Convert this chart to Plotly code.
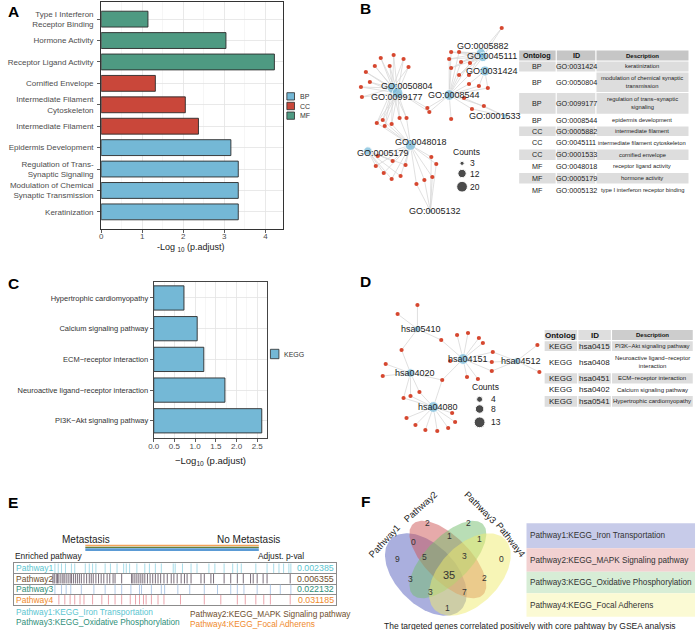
import numpy as np
import plotly.graph_objects as go

W, H = 699, 630
FONT = "Liberation Sans, Arial, sans-serif"


def PX(x):
    return x / W


def PY(y):
    return 1 - y / H


# ---------------- Panel A: GO enrichment ----------------
go_terms = ["Keratinization", "Modulation of Chemical<br>Synaptic Transmission",
            "Regulation of Trans-<br>Synaptic Signaling", "Epidermis Development",
            "Intermediate Filament", "Intermediate Filament<br>Cytoskeleton",
            "Cornified Envelope", "Receptor Ligand Activity", "Hormone Activity",
            "Type I Interferon<br>Receptor Binding"]
go_ont = ["BP", "BP", "BP", "BP", "CC", "CC", "CC", "MF", "MF", "MF"]
go_logp = [3.34, 3.34, 3.34, 3.16, 2.37, 2.05, 1.32, 4.22, 3.04, 1.14]

# ---------------- Panel B: GO network ----------------
b_hubs = ["GO:0050804", "GO:0099177", "GO:0008544", "GO:0005882", "GO:0045111",
          "GO:0031424", "GO:0001533", "GO:0048018", "GO:0005179", "GO:0005132"]
b_hub_counts = [20, 20, 20, 15, 15, 18, 5, 20, 12, 3]
b_hub_x = [390, 395, 447, 479, 481, 483, 503, 408, 365, 428]
b_hub_y = [88, 93, 95, 53, 57, 71, 116, 145, 151, 211]
b_lab_x = [404, 394, 452, 481, 490, 490, 493, 419, 380, 433]
b_lab_y = [86.5, 96.5, 94.5, 46, 56, 70.5, 116, 142.5, 153, 211]
b_gene_x = [391, 378, 401, 387, 406, 372, 363, 367, 358, 359,
            374, 380, 382, 389, 397, 404, 425, 427, 449, 500,
            449, 457, 447, 459, 468, 449, 457, 467, 467, 477, 486,
            462, 482, 470, 375, 390, 403, 373, 381, 389, 398,
            429, 434, 430, 422, 414]
b_gene_y = [55, 58, 59, 66, 67, 66, 72, 82, 87, 97,
            123, 120, 126, 124, 118, 118, 108, 112, 119, 28,
            52, 52, 59, 62, 63, 68, 75, 75, 84, 86, 88,
            98, 106, 109, 156, 161, 165, 166, 173, 179, 176,
            157, 164, 177, 180, 184]
b_gene_hubs = (["0,1"] * 10 + ["0,1,7"] * 6 + ["0,2"] * 2 + ["2"] + ["3,4"]
               + ["2,3,4"] * 8 + ["2,5"] * 3 + ["2,6"] * 3 + ["7,8"] * 7 + ["7,9"] * 5)
b_legend_counts = [3, 12, 20]

tb_head = ["Ontolog", "ID", "Description"]
tb_ont = ["BP", "BP", "BP", "BP", "CC", "CC", "CC", "MF", "MF", "MF"]
tb_id = ["GO:0031424", "GO:0050804", "GO:0099177", "GO:0008544", "GO:0005882",
         "GO:0045111", "GO:0001533", "GO:0048018", "GO:0005179", "GO:0005132"]
tb_desc = ["keratinization", "modulation of chemical synaptic<br>transmission",
           "regulation of trans−synaptic<br>signaling", "epidermis development",
           "intermediate filament", "intermediate filament cytoskeleton",
           "cornified envelope", "receptor ligand activity", "hormone activity",
           "type I interferon receptor binding"]

# ---------------- Panel C: KEGG enrichment ----------------
kegg_terms = ["PI3K−Akt signaling pathway", "Neuroactive ligand−receptor interaction",
              "ECM−receptor interaction", "Calcium signaling pathway",
              "Hypertrophic cardiomyopathy"]
kegg_logp = [2.61, 1.72, 1.21, 1.05, 0.73]

# ---------------- Panel D: KEGG network ----------------
d_hubs = ["hsa05410", "hsa04151", "hsa04512", "hsa04020", "hsa04080"]
d_hub_counts = [5, 13, 5, 8, 13]
d_hub_x = [415, 461, 515, 408, 431]
d_hub_y = [329, 359, 361, 373, 407]
d_lab_x = [419, 465.5, 519.7, 413, 435.5]
d_lab_y = [329, 359.3, 360.7, 372.7, 407.3]
d_gene_x = [415, 395, 439, 399, 455, 466, 477, 481, 491, 490, 490, 448, 465, 476, 440,
            383, 380, 401, 408, 417, 404, 413, 423, 435, 446, 453, 450, 536, 538]
d_gene_y = [305, 314, 340, 350, 335, 333, 338, 343, 352, 362, 371, 361, 377, 379, 380,
            364, 376, 398, 396, 392, 418, 425, 430, 431, 428, 422, 413, 345, 372]
d_gene_hubs = ["0", "0", "0,1", "0,3", "1", "1", "1", "1", "1,2", "1,2", "1,2", "1", "1", "1",
               "1,3,4", "3", "3", "3,4", "3,4", "3,4", "4", "4", "4", "4", "4", "4", "4", "2", "2"]
d_legend_counts = [4, 8, 13]

td_ont = ["KEGG", "KEGG", "KEGG", "KEGG", "KEGG"]
td_id = ["hsa0415", "hsa0408", "hsa0451", "hsa0402", "hsa0541"]
td_desc = ["PI3K−Akt signaling pathway", "Neuroactive ligand−receptor<br>interaction",
           "ECM−receptor interaction", "Calcium signaling pathway",
           "Hypertrophic cardiomyopathy"]

# ---------------- Panel E: GSEA barcodes ----------------
gsea_names = ["Pathway1", "Pathway2", "Pathway3", "Pathway4"]
gsea_padj = ["0.002385", "0.006355", "0.022132", "0.031185"]
gsea_full = ["Pathway1:KEGG_Iron Transportation", "Pathway2:KEGG_MAPK Signaling pathway",
             "Pathway3:KEGG_Oxidative Phosphorylation", "Pathway4:KEGG_Focal Adherens"]
hits_p1 = [124, 134, 144, 156, 174, 184, 216, 228, 238, 248, 276, 292, 312, 332, 340, 350, 372,
           396, 410, 428, 446, 482, 488, 510, 536, 554, 590, 608, 636, 662, 676, 688, 732, 766,
           786, 802, 816, 832, 838]
hits_p2 = [118, 122, 128, 132, 136, 142, 148, 152, 158, 164, 170, 174, 180, 186, 192, 198, 204,
           212, 220, 228, 234, 240, 248, 256, 264, 272, 282, 290, 300, 306, 326, 356, 360, 366,
           372, 378, 384, 390, 396, 404, 412, 420, 428, 436, 444, 454, 464, 476, 484, 494, 506,
           516, 524, 536, 566, 576, 596, 604, 636, 656, 676, 694, 716, 724, 736, 754, 766, 836]
hits_p3 = [124, 144, 158, 172, 204, 242, 276, 306, 326, 354, 380, 386, 416, 446, 456, 496, 532,
           576, 616, 656, 676, 696, 736, 776, 806, 838]
hits_p4 = [136, 154, 170, 184, 200, 212, 238, 266, 286, 306, 326, 352, 368, 380, 392, 400, 416,
           436, 454, 504, 576, 626, 676, 700, 732, 756, 776, 836]

# ---------------- Panel F: Venn ----------------
venn_sets = ["Pathway1", "Pathway2", "Pathway3", "Pathway4"]
venn_counts = [9, 2, 2, 0, 0, 1, 1, 5, 3, 3, 2, 35, 3, 7, 1]
venn_count_x = [395, 425, 466, 500, 411, 447, 478, 422, 462, 408, 483, 447, 428, 462, 445]
venn_count_y = [559, 523, 523, 559, 542, 536, 539, 557, 556, 579, 578, 575, 592, 592, 608]
venn_caption = "The targeted genes correlated positively with core pahtway by GSEA analysis"

# =====================================================================
fig = go.Figure()
annotations, shapes = [], []


def text(x, y, s, size=8, color="#222", xanchor="center", angle=0, bold=False):
    annotations.append(dict(
        x=PX(x), y=PY(y), xref="paper", yref="paper",
        text=("<b>%s</b>" % s) if bold else s, showarrow=False,
        xanchor=xanchor, yanchor="middle", textangle=angle, borderpad=0,
        font=dict(size=size, color=color, family=FONT)))


def rect(x0, y0, x1, y1, fill, layer="below"):
    shapes.append(dict(type="rect", xref="paper", yref="paper",
                       x0=PX(x0), x1=PX(x1), y0=PY(y1), y1=PY(y0),
                       fillcolor=fill, line=dict(width=0), layer=layer))


def hline(x0, x1, y, color, width):
    shapes.append(dict(type="line", xref="paper", yref="paper",
                       x0=PX(x0), x1=PX(x1), y0=PY(y), y1=PY(y),
                       line=dict(color=color, width=width)))


# ---- Panel A bars
ont_colors = {"BP": "#74B8D6", "CC": "#C9473A", "MF": "#4E9A82"}
for ont in ["BP", "CC", "MF"]:
    idx = [i for i, o in enumerate(go_ont) if o == ont]
    fig.add_trace(go.Bar(
        y=[go_terms[i] for i in idx], x=[go_logp[i] for i in idx], orientation="h",
        width=0.74, marker=dict(color=ont_colors[ont], line=dict(color="#2b2b2b", width=0.9)),
        xaxis="x", yaxis="y", showlegend=False, hoverinfo="skip"))

# ---- Panel C bars
fig.add_trace(go.Bar(
    y=kegg_terms, x=kegg_logp, orientation="h", width=0.79,
    marker=dict(color="#74B8D6", line=dict(color="#2b2b2b", width=0.9)),
    xaxis="x2", yaxis="y2", showlegend=False, hoverinfo="skip"))


# ---- Networks
def edges(gx, gy, ghubs, hx, hy):
    ex, ey = [], []
    for x, y, hs in zip(gx, gy, ghubs):
        for h in hs.split(","):
            k = int(h)
            ex += [x, hx[k], None]
            ey += [y, hy[k], None]
    return ex, ey


HUB_COL = "#72B9DA"
GENE_COL = "#D6472F"
for gx, gy, gh, hx, hy, hc, labs, lx, ly, k in [
        (b_gene_x, b_gene_y, b_gene_hubs, b_hub_x, b_hub_y, b_hub_counts, b_hubs, b_lab_x, b_lab_y, 2.4),
        (d_gene_x, d_gene_y, d_gene_hubs, d_hub_x, d_hub_y, d_hub_counts, d_hubs, d_lab_x, d_lab_y, 3.0)]:
    ex, ey = edges(gx, gy, gh, hx, hy)
    fig.add_trace(go.Scatter(x=ex, y=ey, mode="lines", line=dict(color="#D8D8D8", width=0.8),
                             xaxis="x3", yaxis="y3", showlegend=False, hoverinfo="skip"))
    fig.add_trace(go.Scatter(x=gx, y=gy, mode="markers", marker=dict(color=GENE_COL, size=4.2),
                             xaxis="x3", yaxis="y3", showlegend=False, hoverinfo="skip"))
    fig.add_trace(go.Scatter(x=hx, y=hy, mode="markers",
                             marker=dict(color=HUB_COL, size=[k * np.sqrt(c) for c in hc]),
                             xaxis="x3", yaxis="y3", showlegend=False, hoverinfo="skip"))
    for s, x, y in zip(labs, lx, ly):
        text(x, y, s, size=9, color="#222")

# Counts legends
for counts, cx, ys, tx, title_xy, k in [
        (b_legend_counts, 460, [163.3, 173.5, 186.7], 467, (464, 152.3), 2.4),
        (d_legend_counts, 477.7, [399.3, 409, 422.3], 488, (484, 387.3), 3.0)]:
    fig.add_trace(go.Scatter(x=[cx] * 3, y=ys, mode="markers",
                             marker=dict(color="black", size=[k * np.sqrt(c) for c in counts]),
                             xaxis="x3", yaxis="y3", showlegend=False, hoverinfo="skip"))
    text(title_xy[0], title_xy[1], "Counts", size=8.5, color="#222")
    for c, y in zip(counts, ys):
        text(tx, y, str(c), size=8.5, color="#222", xanchor="left")

# ---- Venn (pixel canvas)
venn_fill = ["rgba(85,95,190,0.5)", "rgba(205,85,85,0.5)",
             "rgba(115,190,110,0.5)", "rgba(240,235,110,0.5)"]
venn_geom = [(423.5, 574.5, 50, 30, 45), (445.7, 559.5, 50, 22.5, 45),
             (445.7, 559.5, 50, 22.5, -45), (467.9, 574.5, 50, 30, -45)]
t = np.linspace(0, 2 * np.pi, 160)
for (cx, cy, a, b, ang), col in zip(venn_geom, venn_fill):
    ca, sa = np.cos(np.radians(ang)), np.sin(np.radians(ang))
    ex = cx + a * np.cos(t) * ca - b * np.sin(t) * sa
    ey = cy + a * np.cos(t) * sa + b * np.sin(t) * ca
    fig.add_trace(go.Scatter(x=ex, y=ey, mode="lines", fill="toself", fillcolor=col,
                             line=dict(width=0), xaxis="x3", yaxis="y3",
                             showlegend=False, hoverinfo="skip"))
for c, x, y in zip(venn_counts, venn_count_x, venn_count_y):
    text(x, y, str(c), size=11 if c == 35 else 8.5, color="#333")
for s, (x, y, ang) in zip(venn_sets, [(382, 541, -47), (418, 506.5, -42),
                                      (479, 507.5, 45), (509, 540, 52)]):
    text(x, y, s, size=9.3, color="#222", angle=ang)

# ---- Panel E barcodes
bar_cols = ["#9FD8E6", "#5A4A5A", "#A9C5E6", "#E99AA3"]
lab_cols = ["#5BC5D0", "#6E4E2C", "#2F8F7A", "#F08A2C"]
for i, hits in enumerate([hits_p1, hits_p2, hits_p3, hits_p4]):
    xs, ys = [], []
    for h in hits:
        xs += [h, h, None]
        ys += [i - 0.45, i + 0.45, None]
    fig.add_trace(go.Scatter(x=xs, y=ys, mode="lines",
                             line=dict(color=bar_cols[i], width=1),
                             opacity=0.8 if i == 1 else 0.9,
                             xaxis="x4", yaxis="y4", showlegend=False, hoverinfo="skip"))

row_c = [568.25, 578.75, 589.25, 599.75]
for i in range(4):
    text(9.5, row_c[i], gsea_names[i], size=8.5, color=lab_cols[i], xanchor="left")
    text(332, row_c[i], gsea_padj[i], size=8.8, color=lab_cols[i], xanchor="right")
text(80.5, 539.3, "Metastasis", size=10, color="#222")
text(245, 539.3, "No Metastasis", size=10, color="#222")
text(8, 556, "Enriched pathway", size=8.4, color="#222", xanchor="left")
text(302, 556, "Adjust. p-val", size=8.4, color="#222", xanchor="right")
hline(80, 255, 545.6, "#F4A259", 1.5)
hline(80, 255, 547.3, "#66803C", 1.3)
hline(80, 255, 549.6, "#5B9BD5", 2.6)
text(9.3, 612.3, gsea_full[0], size=8.3, color=lab_cols[0], xanchor="left")
text(9.3, 622.3, gsea_full[2], size=8.3, color=lab_cols[2], xanchor="left")
text(184.3, 614, gsea_full[1], size=8.3, color=lab_cols[1], xanchor="left")
text(184.3, 623.7, gsea_full[3], size=8.3, color=lab_cols[3], xanchor="left")

# ---- Panel F legend boxes
box_cols = ["#C7CBE9", "#F2D1D1", "#D7EDD6", "#FBFAD4"]
box_y = [523.3, 548.3, 571.7, 593.3, 616.7]
for i in range(4):
    rect(525, box_y[i], 695, box_y[i + 1], box_cols[i])
    text(528, (box_y[i] + box_y[i + 1]) / 2, gsea_full[i], size=8.2, color="#333", xanchor="left")
text(528.5, 625.5, venn_caption, size=8.5, color="#222")

# ---- Tables
GRAY = "#DDDDDD"


def table(cols_x, rows_y, head, cols, head_fill, fills, sizes, head_sizes):
    for j in range(3):
        rect(cols_x[j] + 0.6, rows_y[0] + 0.6, cols_x[j + 1] - 0.6, rows_y[1] - 0.6, head_fill[j])
        text((cols_x[j] + cols_x[j + 1]) / 2, (rows_y[0] + rows_y[1]) / 2, head[j],
             size=head_sizes[j], color="#111", bold=True)
    for r in range(len(cols[0])):
        for j in range(3):
            f = fills[j][r]
            if f != "white":
                rect(cols_x[j] + 0.6, rows_y[r + 1] + 0.6, cols_x[j + 1] - 0.6, rows_y[r + 2] - 0.6, f)
            text((cols_x[j] + cols_x[j + 1]) / 2, (rows_y[r + 1] + rows_y[r + 2]) / 2,
                 cols[j][r], size=sizes[j], color="#222")


rowfill_b = [GRAY if r % 2 == 0 else "white" for r in range(10)]
descfill_b = list(rowfill_b)
descfill_b[1] = GRAY
table([517, 555, 595, 689], [50, 61, 72, 92.5, 114.3, 126, 136.7, 149, 160.7, 172.3, 184, 196],
      tb_head, [tb_ont, tb_id, tb_desc], ["#C6C6C6"] * 3,
      [rowfill_b, rowfill_b, descfill_b], [7.2, 7.2, 5.8], [7.2, 7.2, 6])
rowfill_d = [GRAY if r % 2 == 0 else "white" for r in range(5)]
table([542.7, 576.7, 610.7, 693.3], [329.3, 340.7, 351.7, 372.7, 384, 395.3, 407.3],
      tb_head, [td_ont, td_id, td_desc], ["#DEDEDE", "#DEDEDE", "#CDCDCD"],
      [rowfill_d, rowfill_d, rowfill_d], [8, 8, 6], [8, 8, 6])

# ---- Legends for A and C (manual keys)
for lab, y0, y1 in [("BP", 92.7, 100), ("CC", 102.3, 109.7), ("MF", 112, 119.3)]:
    shapes.append(dict(type="rect", xref="paper", yref="paper", x0=PX(283.3), x1=PX(291),
                       y0=PY(y1), y1=PY(y0), fillcolor=ont_colors[lab],
                       line=dict(color="#2b2b2b", width=0.8)))
    text(296, (y0 + y1) / 2, lab, size=7, color="#333", xanchor="left")
shapes.append(dict(type="rect", xref="paper", yref="paper", x0=PX(266.7), x1=PX(275.3),
                   y0=PY(358.7), y1=PY(349.3), fillcolor="#74B8D6",
                   line=dict(color="#2b2b2b", width=0.8)))
text(279.3, 354, "KEGG", size=7, color="#333", xanchor="left")

# ---- Axis titles and panel letters
text(187, 248, "-Log <sub>10</sub> (p.adjust)", size=9, color="#222")
text(206, 460.7, "−Log<sub>10</sub> (p.adjust)", size=9.5, color="#222")
for s, x, y in [("A", 7.5, 11), ("B", 363, 8.5), ("C", 7.5, 283.5), ("D", 363, 281.5),
                ("E", 7.5, 502.5), ("F", 362.5, 502)]:
    text(x, y, s, size=15.5, color="black", bold=True)

GRID = "#E4E4E4"
MINOR = "#F0F0F0"
fig.update_layout(
    width=W, height=H, margin=dict(l=0, r=0, t=0, b=0),
    paper_bgcolor="white", plot_bgcolor="rgba(0,0,0,0)",
    font=dict(family=FONT), barmode="overlay", showlegend=False,
    xaxis=dict(domain=[PX(96), PX(279)], range=[0, 4.42], anchor="y", tick0=0, dtick=1,
               ticks="outside", ticklen=3, tickcolor="#333", tickwidth=0.8, ticklabelstandoff=-4,
               tickfont=dict(size=8, color="#4D4D4D"), showline=True, mirror=True,
               linecolor="#333", linewidth=1, showgrid=True, gridcolor=GRID, gridwidth=0.8,
               minor=dict(dtick=0.5, tick0=0, showgrid=True, gridcolor=MINOR, gridwidth=0.6),
               zeroline=False, fixedrange=True),
    yaxis=dict(domain=[PY(229), PY(2)], range=[-0.8, 9.8], anchor="x", type="category",
               categoryorder="array", categoryarray=go_terms, ticks="outside", ticklen=3,
               tickcolor="#333", tickwidth=0.8, tickfont=dict(size=8, color="#4D4D4D"),
               ticklabelstandoff=2,
               showline=True, mirror=True, linecolor="#333", linewidth=1,
               showgrid=True, gridcolor=GRID, gridwidth=0.8, zeroline=False, fixedrange=True),
    xaxis2=dict(domain=[PX(149), PX(263)], range=[0, 2.73], anchor="y2", tick0=0, dtick=0.5,
                tickformat=".1f", ticks="outside", ticklen=3, tickcolor="#333", tickwidth=0.8,
                ticklabelstandoff=-3,
                tickfont=dict(size=8, color="#4D4D4D"), showline=True, mirror=True,
                linecolor="#444", linewidth=1, showgrid=True, gridcolor=GRID, gridwidth=0.8,
                minor=dict(dtick=0.25, tick0=0, showgrid=True, gridcolor=MINOR, gridwidth=0.6),
                zeroline=False, fixedrange=True),
    yaxis2=dict(domain=[PY(438), PY(282)], range=[-0.56, 4.52], anchor="x2", type="category",
                categoryorder="array", categoryarray=kegg_terms, ticks="outside", ticklen=3,
                tickcolor="#333", tickwidth=0.8, tickfont=dict(size=7.5, color="#333"),
                showline=True, mirror=True, linecolor="#444", linewidth=1,
                showgrid=True, gridcolor=GRID, gridwidth=0.8, zeroline=False, fixedrange=True),
    xaxis3=dict(domain=[0, 1], range=[0, W], anchor="y3", visible=False, fixedrange=True),
    yaxis3=dict(domain=[0, 1], range=[H, 0], anchor="x3", visible=False, fixedrange=True),
    xaxis4=dict(domain=[PX(8), PX(333)], range=[0, 975], anchor="y4", showgrid=False,
                zeroline=False, showticklabels=False, ticks="", showline=True, mirror=True,
                linecolor="#8C8C8C", linewidth=1, fixedrange=True),
    yaxis4=dict(domain=[PY(605), PY(563)], range=[3.5, -0.5], anchor="x4",
                tickvals=[0.5, 1.5, 2.5], showgrid=True, gridcolor="#8C8C8C", gridwidth=1,
                zeroline=False, showticklabels=False, ticks="", showline=True, mirror=True,
                linecolor="#8C8C8C", linewidth=1, fixedrange=True),
    annotations=annotations, shapes=shapes,
)

fig.write_html("out.html", config={"displayModeBar": False, "staticPlot": True},
               post_script="document.body.style.margin='0';document.body.style.overflow='hidden';")
